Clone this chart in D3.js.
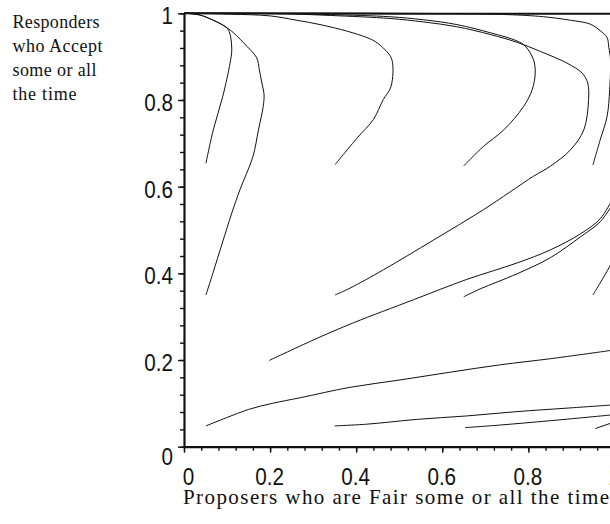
<!DOCTYPE html>
<html><head><meta charset="utf-8">
<script src="https://cdn.jsdelivr.net/npm/d3@7"></script>
<style>body{margin:0;background:#fff;overflow:hidden}</style>
</head><body><svg id="c" width="610" height="524"></svg>
<script>
// ---- data ----
const xTickValues = [0, 0.2, 0.4, 0.6, 0.8, 1];
const yTickValues = [0, 0.2, 0.4, 0.6, 0.8, 1];
const tickLabels = ["0", "0.2", "0.4", "0.6", "0.8", "1"];
const yTitleLines = ["Responders", "who Accept", "some or all", "the time"];
const xTitle = "Proposers who are Fair some or all the time";

const trajA = [[0.051,0.654],[0.068,0.731],[0.090,0.808],[0.107,0.885],[0.111,0.916],[0.105,0.958],[0.095,0.970],[0.068,0.984],[0.037,0.996],[0.005,1.0]];
const trajB = [[0.051,0.350],[0.067,0.400],[0.089,0.470],[0.111,0.539],[0.130,0.593],[0.160,0.669],[0.173,0.731],[0.184,0.785],[0.186,0.812],[0.181,0.839],[0.175,0.870],[0.169,0.897],[0.146,0.924],[0.115,0.955],[0.095,0.970],[0.068,0.984],[0.037,0.996],[0.005,1.0]];
const trajC = [[0.051,0.048],[0.099,0.067],[0.150,0.086],[0.205,0.100],[0.270,0.113],[0.386,0.137],[0.502,0.154],[0.619,0.172],[0.735,0.189],[0.851,0.203],[0.991,0.222]];
const trajD = [[0.198,0.199],[0.309,0.250],[0.394,0.286],[0.533,0.339],[0.657,0.386],[0.774,0.424],[0.851,0.454],[0.921,0.491],[0.967,0.526],[0.995,0.570]];
const trajE = [[0.650,0.346],[0.688,0.364],[0.774,0.399],[0.851,0.436],[0.921,0.484],[0.967,0.519],[0.995,0.558]];
const trajF = [[0.351,0.651],[0.402,0.712],[0.440,0.755],[0.463,0.801],[0.481,0.831],[0.483,0.893],[0.467,0.916],[0.444,0.935],[0.425,0.944],[0.378,0.959],[0.316,0.974],[0.262,0.984],[0.200,0.994],[0.107,0.998],[0.0,1.0]];
const trajG = [[0.351,0.350],[0.386,0.366],[0.463,0.408],[0.580,0.477],[0.696,0.547],[0.812,0.624],[0.851,0.647],[0.898,0.685],[0.929,0.731],[0.940,0.801],[0.938,0.839],[0.925,0.862],[0.890,0.885],[0.828,0.912],[0.774,0.933],[0.712,0.951],[0.634,0.969],[0.557,0.980],[0.479,0.988],[0.340,0.995],[0.223,0.999],[0.0,1.0]];
const trajH = [[0.650,0.648],[0.696,0.693],[0.743,0.731],[0.789,0.785],[0.809,0.824],[0.816,0.862],[0.812,0.893],[0.793,0.924],[0.774,0.936],[0.712,0.955],[0.634,0.974],[0.557,0.985],[0.479,0.992],[0.340,0.997],[0.200,1.0],[0.0,1.0]];
const trajI = [[0.950,0.650],[0.967,0.708],[0.983,0.762],[0.989,0.824],[0.991,0.893],[0.987,0.921],[0.983,0.944],[0.967,0.960],[0.944,0.975],[0.898,0.984],[0.836,0.992],[0.750,0.997],[0.500,1.0],[0.0,1.0]];
const trajK = [[0.950,0.350],[0.967,0.378],[0.989,0.416],[1.0,0.440]];
const trajL = [[0.350,0.048],[0.425,0.052],[0.541,0.063],[0.657,0.071],[0.774,0.081],[0.890,0.089],[0.991,0.096]];
const trajM = [[0.653,0.044],[0.735,0.050],[0.851,0.060],[0.991,0.073]];
const trajN = [[0.956,0.042],[0.991,0.054]];
const trajTop = [[1.0,0.999],[0.5,0.999],[0.0,1.0]];

const trajectories = [trajA,trajB,trajC,trajD,trajE,trajF,trajG,trajH,trajI,trajK,trajL,trajM,trajN];

// ---- drawing ----
const svg = d3.select("#c");
const x = d3.scaleLinear().domain([0,1]).range([184, 614.4]);
const y = d3.scaleLinear().domain([0,1]).range([446.7, 13.3]);
const ink = "#111";

const line = d3.line().x(d => x(d[0])).y(d => y(d[1])).curve(d3.curveCatmullRom.alpha(0.5));

svg.append("g").selectAll("path").data(trajectories).join("path")
  .attr("d", line).attr("fill","none").attr("stroke", ink).attr("stroke-width", 1);
svg.append("path").datum(trajTop).attr("d", line)
  .attr("fill","none").attr("stroke", ink).attr("stroke-width", 2);

const minor = d3.range(0, 1.0001, 0.04);

// minor ticks
const gxm = svg.append("g").attr("transform", `translate(0,${y(0)})`)
  .call(d3.axisBottom(x).tickValues(minor).tickSize(4).tickFormat(""));
gxm.select(".domain").remove();
const gym = svg.append("g").attr("transform", `translate(${x(0)},0)`)
  .call(d3.axisLeft(y).tickValues(minor).tickSize(4).tickFormat(""));
gym.select(".domain").remove();

// major axes
const fmt = (d,i) => tickLabels[i];
const gx = svg.append("g").attr("transform", `translate(0,${y(0)})`)
  .call(d3.axisBottom(x).tickValues(xTickValues).tickSize(6).tickSizeOuter(0).tickFormat(fmt));
const gy = svg.append("g").attr("transform", `translate(${x(0)},0)`)
  .call(d3.axisLeft(y).tickValues(yTickValues).tickSize(6).tickSizeOuter(0).tickFormat(fmt));

[gxm, gym, gx, gy].forEach(g => {
  g.selectAll("line").attr("stroke", ink).attr("stroke-width", 1.4);
  g.select(".domain").attr("stroke", ink).attr("stroke-width", 2.2);
});

const sx = 0.86;
gx.selectAll("text")
  .attr("font-family", "'Liberation Sans', Arial, sans-serif").attr("font-size", 24)
  .attr("fill", ink).attr("dy", null).attr("y", 38)
  .attr("x", (d) => d === 0 ? 4 / sx : -1 / sx)
  .attr("transform", `scale(${sx},1)`);
gy.selectAll("text")
  .attr("font-family", "'Liberation Sans', Arial, sans-serif").attr("font-size", 24)
  .attr("fill", ink).attr("dy", null)
  .attr("x", -11 / sx)
  .attr("y", d => d === 0 ? 18 : 10.5)
  .attr("transform", `scale(${sx},1)`);

// titles
const tl = [87, 90, 84, 64];
svg.append("g").selectAll("text").data(yTitleLines).join("text")
  .attr("x", 12.5).attr("y", (d,i) => 28 + i * 24)
  .attr("font-family", "'Liberation Serif', 'Times New Roman', serif").attr("font-size", 18)
  .attr("fill", ink)
  .attr("textLength", (d,i) => tl[i]).attr("lengthAdjust", "spacing")
  .text(d => d);

svg.append("text").attr("x", 183).attr("y", 504)
  .attr("font-family", "'Liberation Serif', 'Times New Roman', serif").attr("font-size", 21)
  .attr("fill", ink).attr("textLength", 426).attr("lengthAdjust", "spacing")
  .text(xTitle);
</script>
</body></html>
